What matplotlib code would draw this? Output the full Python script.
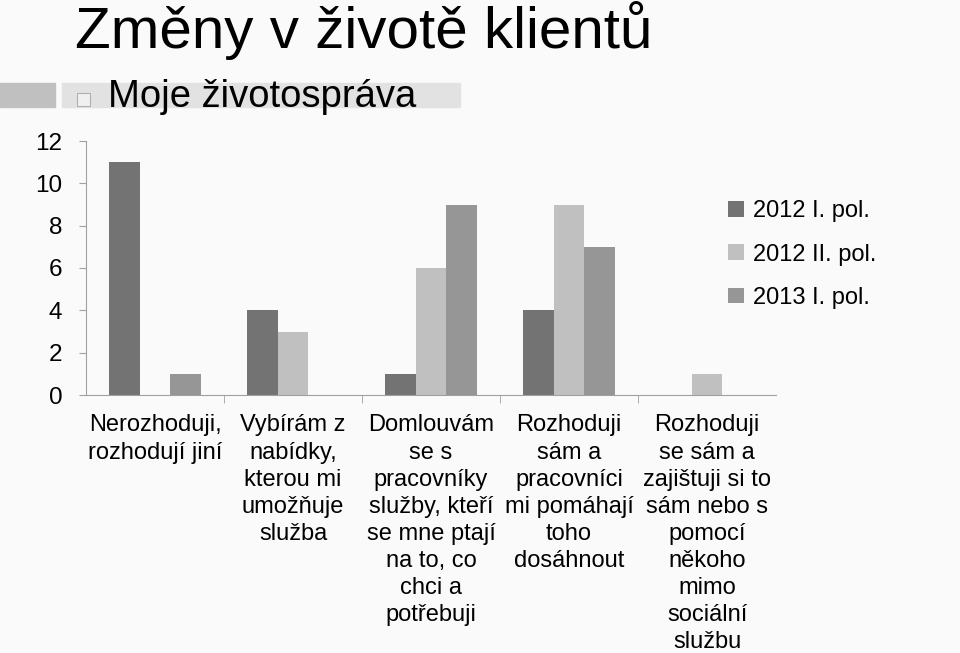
import numpy as np
import matplotlib.pyplot as plt
from matplotlib.patches import Rectangle

# ===============================
# DATA
# ===============================
categories = [
    "Nerozhoduji,\nrozhodují jiní",
    "Vybírám z\nnabídky,\nkterou mi\numožňuje\nslužba",
    "Domlouvám\nse s\npracovníky\nslužby, kteří\nse mne ptají\nna to, co\nchci a\npotřebuji",
    "Rozhoduji\nsám a\npracovníci\nmi pomáhají\ntoho\ndosáhnout",
    "Rozhoduji\nse sám a\nzajištuji si to\nsám nebo s\npomocí\nněkoho\nmimo\nsociální\nslužbu",
]
series_names = ["2012 I. pol.", "2012 II. pol.", "2013 I. pol."]
h2012_1 = [11, 4, 1, 4, 0]
h2012_2 = [0, 3, 6, 9, 1]
h2013_1 = [1, 0, 9, 7, 0]
colors = ["#737373", "#c0c0c0", "#969696"]

plt.rcParams['font.family'] = ['Liberation Sans', 'DejaVu Sans']

# ===============================
# FIGURE
# ===============================
fig = plt.figure(figsize=(9.6, 6.53), dpi=100)
fig.patch.set_facecolor("#fafafa")

# title + header band
fig.text(75 / 960, 1 - 48 / 653, "Změny v životě klientů", fontsize=42,
         va="baseline", ha="left", color="black")
fig.patches.append(Rectangle((0, 1 - 107 / 653), 55 / 960, 24 / 653,
                             transform=fig.transFigure, color="#c0c0c0", zorder=0))
fig.patches.append(Rectangle((62 / 960, 1 - 107 / 653), 398 / 960, 24 / 653,
                             transform=fig.transFigure, color="#e2e2e2", zorder=0))
fig.patches.append(Rectangle((77 / 960, 1 - 106 / 653), 13 / 960, 13 / 653,
                             transform=fig.transFigure, facecolor="#f0f0f0",
                             edgecolor="#b0b0b0", lw=0.8, zorder=1))
fig.text(108 / 960, 1 - 97 / 653, "Moje životospráva", fontsize=27.5,
         va="center", ha="left", color="black")

ax = fig.add_axes([86 / 960, 1 - 395 / 653, 690 / 960, 254 / 653])
ax.set_facecolor("#fafafa")

x = np.arange(len(categories))
w = 0.222
data = [h2012_1, h2012_2, h2013_1]
for i, (vals, name, c) in enumerate(zip(data, series_names, colors)):
    ax.bar(x + (i - 1) * w, vals, w, color=c, label=name)

ax.set_xlim(-0.5, len(categories) - 0.5)
ax.set_ylim(0, 12)
ax.set_yticks(range(0, 13, 2))
ax.tick_params(axis="y", labelsize=17.5, length=5, color="#a0a0a0", pad=12)
ax.set_xticks(x)
ax.set_xticklabels(categories, fontsize=17, linespacing=1.3)
ax.tick_params(axis="x", length=0, pad=14)
ax.set_xticks(np.arange(0.5, len(categories) - 1, 1), minor=True)
ax.tick_params(axis="x", which="minor", length=6, color="#a0a0a0")

for s in ["top", "right"]:
    ax.spines[s].set_visible(False)
for s in ["left", "bottom"]:
    ax.spines[s].set_color("#a0a0a0")

ax.legend(loc="upper left", bbox_to_anchor=(1 - 0.1, 0.85), frameon=False,
          fontsize=17, handlelength=0.65, handleheight=0.65, handletextpad=0.4,
          labelspacing=0.9)

plt.savefig("out.png", dpi=100, facecolor=fig.get_facecolor())
